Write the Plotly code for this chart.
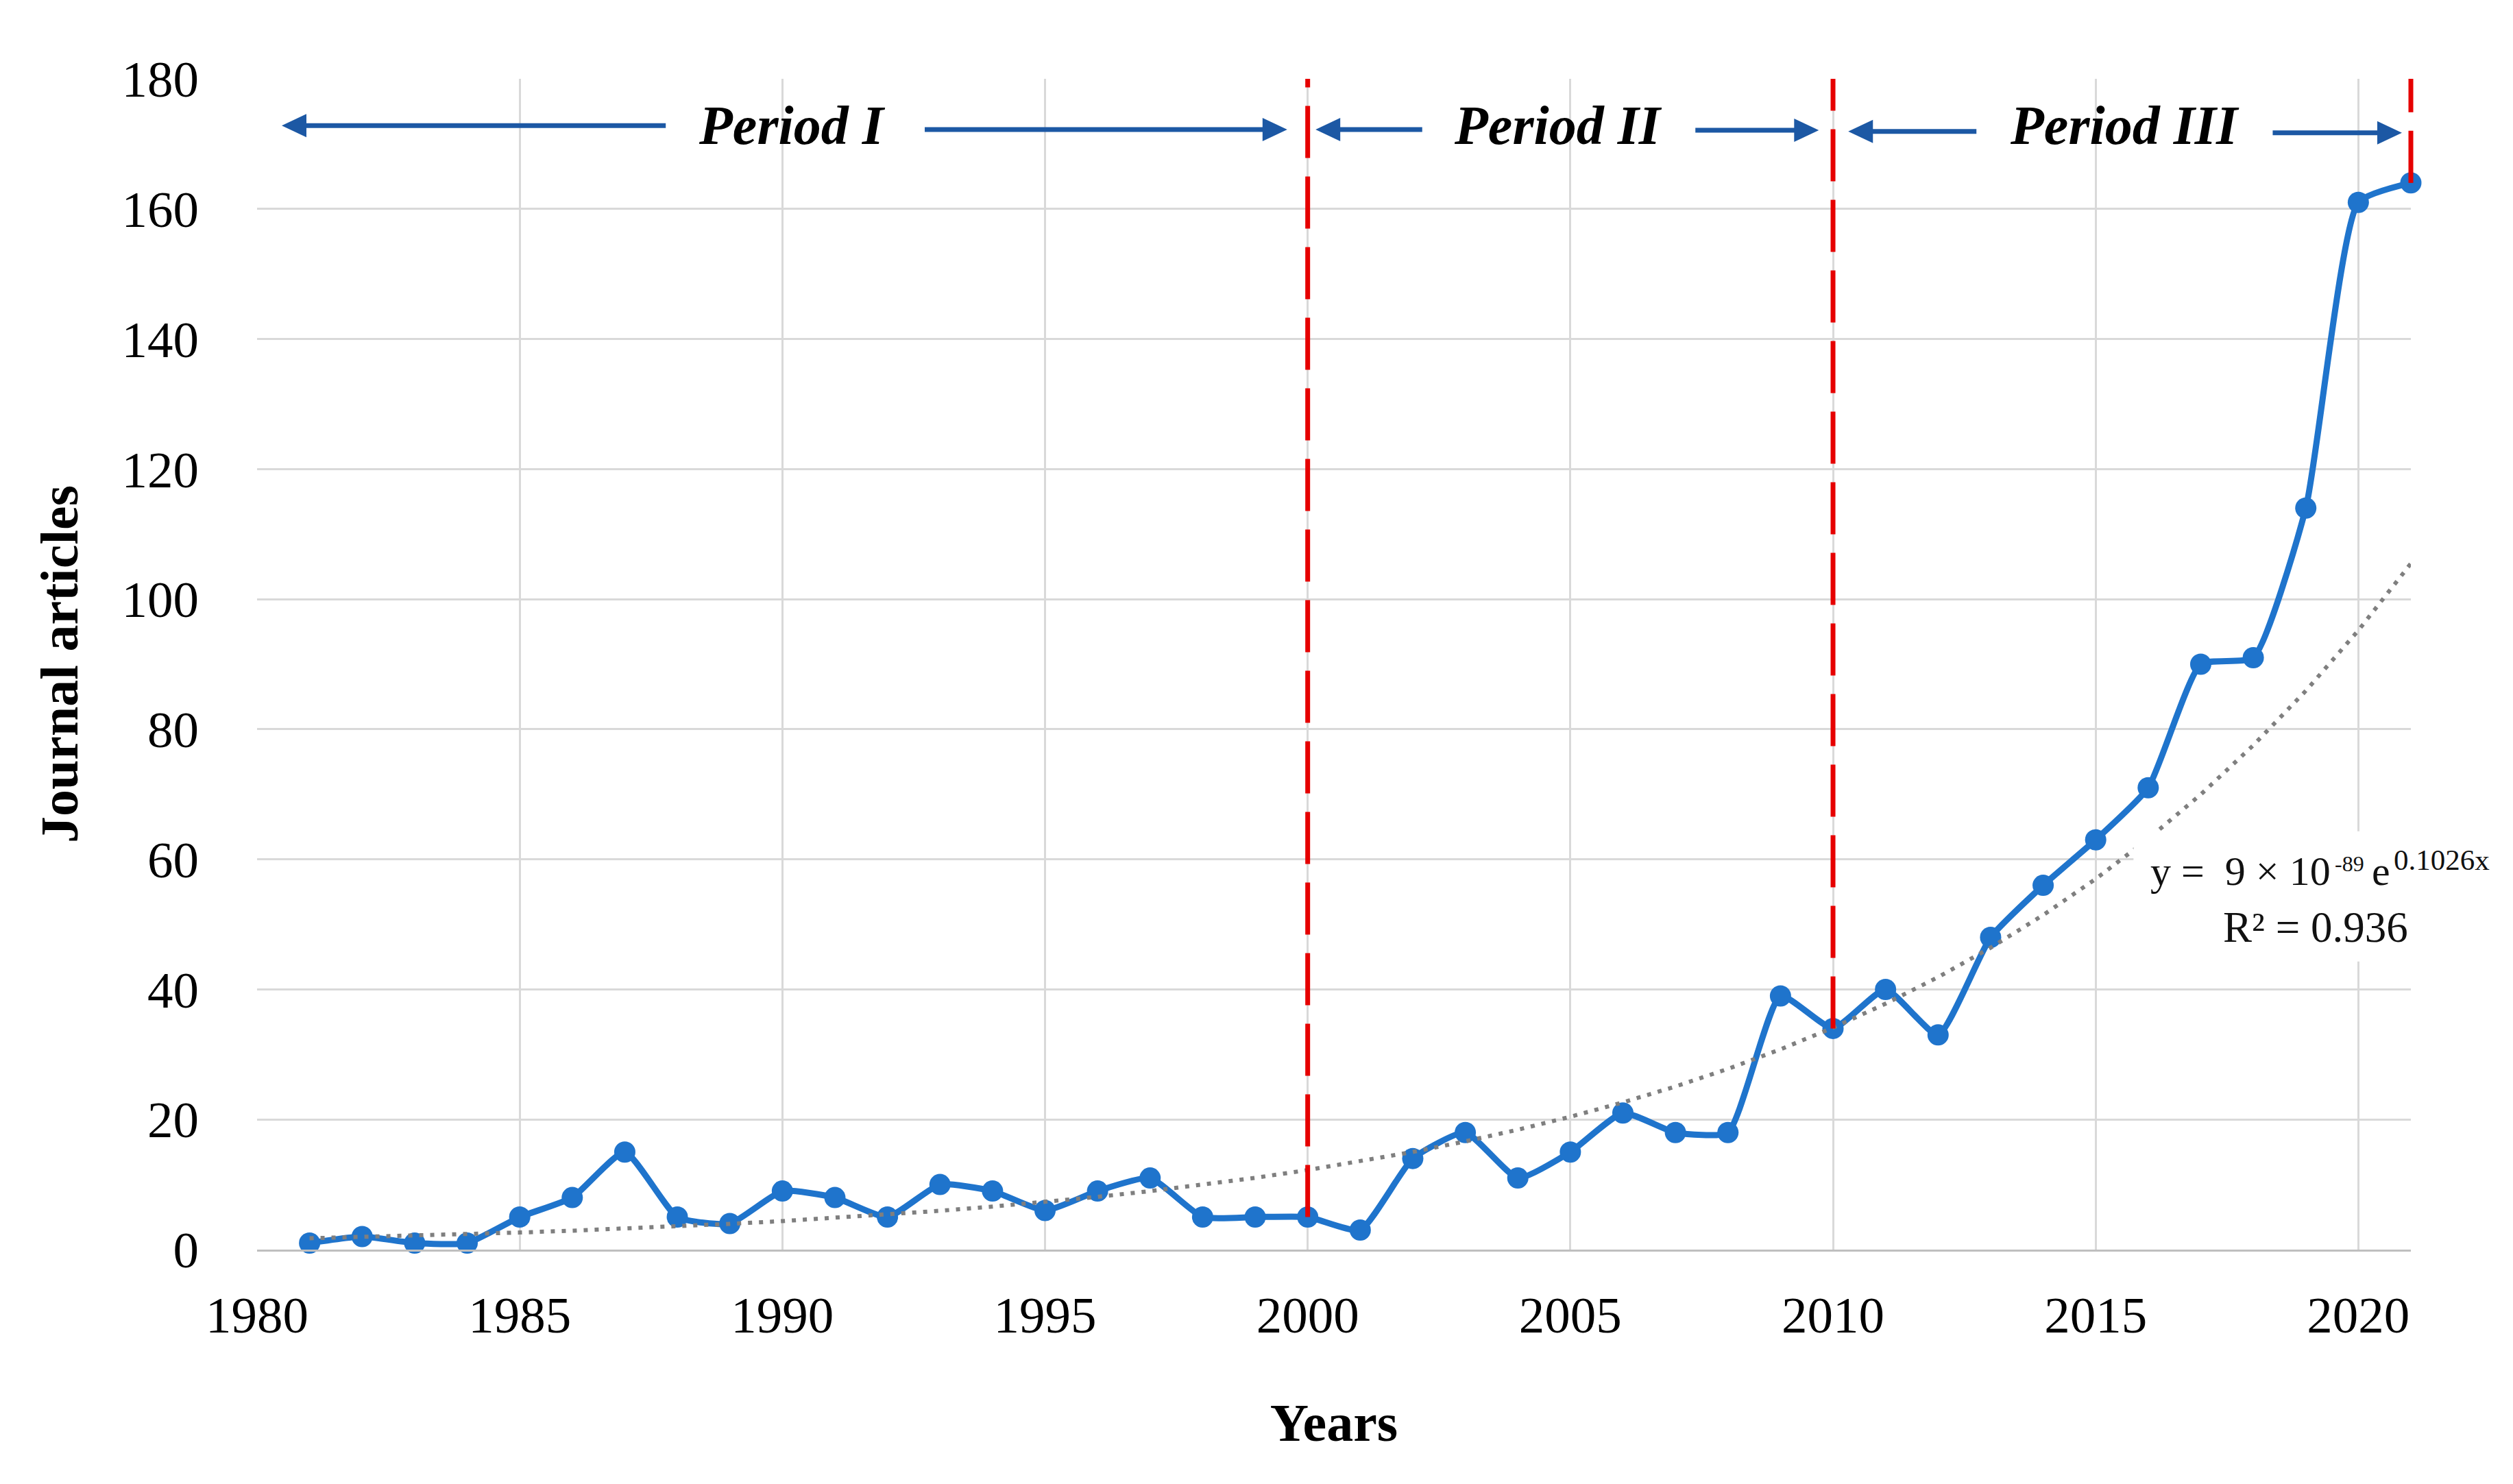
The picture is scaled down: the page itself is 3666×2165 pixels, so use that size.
import numpy as np
import plotly.graph_objects as go

# ---------------- data ----------------
years = list(range(1981, 2022))
articles = [1, 2, 1, 1, 5, 8, 15, 5, 4, 9,
            8, 5, 10, 9, 6, 9, 11, 5, 5, 5,
            3, 14, 18, 11, 15, 21, 18, 18, 39, 34,
            40, 33, 48, 56, 63, 71, 90, 91, 114, 161,
            164]
x_ticks = [1980, 1985, 1990, 1995, 2000, 2005, 2010, 2015, 2020]
y_ticks = [0, 20, 40, 60, 80, 100, 120, 140, 160, 180]
period_names = ["Period I", "Period II", "Period III"]
period_ends = [2000, 2010, 2021]
# trendline equation pieces: "y =  9 × 10^-89 e^0.1026x"
eq_main = "y =\u00a0\u00a09 × 10"
eq_exp10 = "-89"
eq_e = "e"
eq_exp_e = "0.1026x"
r2_text = "R² = 0.936"

# exponential trendline fitted to the data (as the spreadsheet does)
b, a = np.polyfit(years, np.log(articles), 1)
trend = np.exp(a + b * np.array(years))

X_RANGE = [1980, 2021]
Y_RANGE = [0, 180]

# ---------------- styles ----------------
BLUE = "#1F74CC"
ARROW_BLUE = "#1C58A4"
RED = "#E60000"
GRID = "#D9D9D9"
FONT = "Liberation Serif"
TXT = "#111111"

W, H = 3666, 2165
ML, MR, MT, MB = 367, 157, 107, 350
PW, PH = W - ML - MR, H - MT - MB
PX_PER_YEAR = PW / (X_RANGE[1] - X_RANGE[0])

fig = go.Figure()
fig.add_trace(go.Scatter(
    x=years, y=articles, mode="lines+markers",
    line=dict(color=BLUE, width=9, shape="spline", smoothing=0.5),
    marker=dict(size=31, color=BLUE),
    cliponaxis=False, showlegend=False,
))
fig.add_trace(go.Scatter(
    x=years, y=trend, mode="lines",
    line=dict(color="#7F7F7F", width=6, dash="6px,10px"),
    showlegend=False,
))


def xp(v):
    return (v - X_RANGE[0]) / (X_RANGE[1] - X_RANGE[0])


def yp(v):
    return (v - Y_RANGE[0]) / (Y_RANGE[1] - Y_RANGE[0])


def px_x(px):  # page pixel -> paper x
    return (px - ML) / PW


def px_y(py):  # page pixel -> paper y
    return (H - MB - py) / PH


# red dashed period boundaries (from top of chart down to the data point)
for yr in period_ends:
    fig.add_shape(type="line", xref="paper", yref="paper",
                  x0=xp(yr), x1=xp(yr), y0=yp(articles[years.index(yr)]), y1=yp(Y_RANGE[1]),
                  line=dict(color=RED, width=7, dash="76px,27px"), layer="above")

# white box behind the trendline equation
fig.add_shape(type="rect", xref="x", yref="y", x0=2015.72, x1=2022.6, y0=44.3, y1=64.3,
              fillcolor="white", line=dict(width=0), layer="above")

# period arrows: (head_x, tail_x, y) -> shaft line + triangular head
HEAD_LEN, HEAD_HALF = 36, 17
arrows = [(1980.47, 1987.78, 172.8), (1999.61, 1992.71, 172.2),
          (2000.15, 2002.18, 172.2), (2009.73, 2007.38, 172.1),
          (2010.29, 2012.73, 171.9), (2020.83, 2018.37, 171.7)]
for hx, tx, yy in arrows:
    d = 1 if hx > tx else -1
    fig.add_shape(type="line", xref="x", yref="y",
                  x0=tx, x1=hx - d * (HEAD_LEN - 4) / PX_PER_YEAR, y0=yy, y1=yy,
                  line=dict(color=ARROW_BLUE, width=7), layer="above")
    fig.add_shape(type="path", xref="x", yref="y",
                  xsizemode="pixel", ysizemode="pixel", xanchor=hx, yanchor=yy,
                  path=f"M0,0 L{-d * HEAD_LEN},{HEAD_HALF} L{-d * HEAD_LEN},{-HEAD_HALF} Z",
                  fillcolor=ARROW_BLUE, line=dict(width=0), layer="above")

annotations = []
label_x = [1990.18, 2004.77, 2015.55]
for name, lx in zip(period_names, label_x):
    annotations.append(dict(x=lx, y=172.8, xref="x", yref="y", text=f"<b><i>{name}</i></b>",
                            showarrow=False, font=dict(family=FONT, size=80, color="black"),
                            xanchor="center", yanchor="middle"))


def label(text, anchor_px, mid_px, size, anchor="left"):
    annotations.append(dict(x=px_x(anchor_px), y=px_y(mid_px), xref="paper", yref="paper",
                            text=text, showarrow=False, xanchor=anchor, yanchor="middle",
                            font=dict(family=FONT, size=size, color=TXT)))


label(eq_main, 3394, 1263, 60, anchor="right")
label(eq_exp10, 3396, 1252, 32)
label(eq_e, 3450, 1263, 60)
label(eq_exp_e, 3482, 1246, 43)
annotations.append(dict(x=xp(2020.98), y=yp(49.5), xref="paper", yref="paper", text=r2_text,
                        showarrow=False, xanchor="right", yanchor="middle",
                        font=dict(family=FONT, size=63, color=TXT)))

fig.update_layout(
    width=W, height=H,
    margin=dict(l=ML, r=MR, t=MT, b=MB, autoexpand=False),
    plot_bgcolor="white", paper_bgcolor="white",
    font=dict(family=FONT, color="black"),
    annotations=annotations,
    xaxis=dict(range=X_RANGE, tickvals=x_ticks, ticktext=[str(t) for t in x_ticks],
               showgrid=True, gridcolor=GRID, gridwidth=3, zeroline=False,
               showline=True, linecolor="#BFBFBF", linewidth=3,
               ticks="", ticklabelstandoff=28,
               tickfont=dict(family=FONT, size=75, color="black"),
               title=dict(text="<b>Years</b>", font=dict(family=FONT, size=78, color="black"),
                          standoff=89)),
    yaxis=dict(range=Y_RANGE, tickvals=y_ticks,
               showgrid=True, gridcolor=GRID, gridwidth=3, zeroline=False,
               ticks="", ticklabelstandoff=84,
               tickfont=dict(family=FONT, size=75, color="black"),
               title=dict(text="<b>Journal articles</b>", font=dict(family=FONT, size=78, color="black"),
                          standoff=38)),
)

fig.write_html("out.html")
